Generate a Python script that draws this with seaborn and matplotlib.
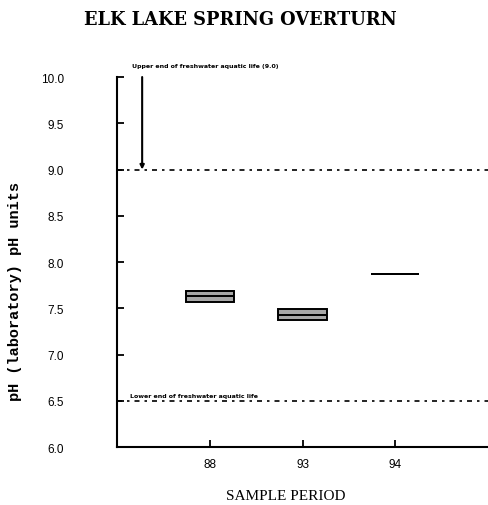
import matplotlib
matplotlib.use("Agg")
import matplotlib.pyplot as plt
import seaborn as sns
import pandas as pd

# pH (laboratory) readings per sampling period
periods = ["88", "93", "94"]
ph_88 = [7.57, 7.57, 7.63, 7.69, 7.69]
ph_93 = [7.37, 7.37, 7.43, 7.49, 7.49]
ph_94 = [7.87, 7.87, 7.87]

# freshwater aquatic life limits
upper_limit = 9.0
lower_limit = 6.5
upper_label = "Upper end of freshwater aquatic life (9.0)"
lower_label = "Lower end of freshwater aquatic life"

y_ticks = [6.0, 6.5, 7.0, 7.5, 8.0, 8.5, 9.0, 9.5, 10.0]

df = pd.DataFrame({
    "period": ["88"] * len(ph_88) + ["93"] * len(ph_93) + ["94"] * len(ph_94),
    "ph": ph_88 + ph_93 + ph_94,
})

sns.set_style("ticks", {"text.color": "black", "axes.labelcolor": "black",
                        "xtick.color": "black", "ytick.color": "black"})
fig = plt.figure(figsize=(4.88, 5.06), dpi=100)
ax = fig.add_axes([0.240, 0.1146, 0.760, 0.7312])

sns.boxplot(data=df, x="period", y="ph", order=periods, ax=ax,
            width=0.52, color="#a8a8a8", linecolor="black", linewidth=1.4,
            whis=0, showfliers=False, showcaps=False,
            medianprops=dict(color="black", linewidth=1.4),
            boxprops=dict(facecolor="#a8a8a8"))

dash = (0, (3, 3, 1.5, 3))
ax.axhline(upper_limit, color="black", lw=1.2, ls=dash, zorder=1)
ax.axhline(lower_limit, color="black", lw=1.2, ls=dash, zorder=1)

ax.annotate("", xy=(-0.73, upper_limit), xytext=(-0.73, 10.0),
            arrowprops=dict(arrowstyle="-|>", color="black", lw=1.5,
                            mutation_scale=6, shrinkA=0, shrinkB=0))
ax.text(-0.84, 10.13, upper_label, fontsize=4.5, fontweight="bold",
        family="DejaVu Sans", ha="left", va="center", color="black")
ax.text(-0.86, lower_limit + 0.06, lower_label, fontsize=4.5, fontweight="bold",
        family="DejaVu Sans", ha="left", va="center", color="black")

ax.set_xlim(-1, 3)
ax.set_ylim(6.0, 10.0)
ax.set_yticks(y_ticks)
ax.set_yticklabels([f"{v:.1f}" for v in y_ticks])
ax.set_xlabel("")
ax.set_ylabel("")
ax.tick_params(axis="both", direction="in", length=5, width=1.3, colors="black",
               labelsize=8.5)
ax.tick_params(axis="y", pad=38)
ax.tick_params(axis="x", pad=8)
for lab in ax.get_xticklabels() + ax.get_yticklabels():
    lab.set_family("Liberation Sans")

sns.despine(ax=ax, top=True, right=True)
for s in ("left", "bottom"):
    ax.spines[s].set_linewidth(1.5)
    ax.spines[s].set_color("black")

fig.text(0.492, 0.960, "ELK LAKE SPRING OVERTURN", ha="center", va="center",
         family="DejaVu Serif", fontweight="bold", fontsize=12.8, color="black")
fig.text(0.585, 0.018, "SAMPLE PERIOD", ha="center", va="center",
         family="Liberation Serif", fontsize=11, color="black")
fig.text(0.031, 0.423, "pH (laboratory) pH units", ha="center", va="center",
         rotation=90, family="Liberation Mono", fontweight="bold", fontsize=11,
         color="black")

fig.savefig("out.png", dpi=100)
